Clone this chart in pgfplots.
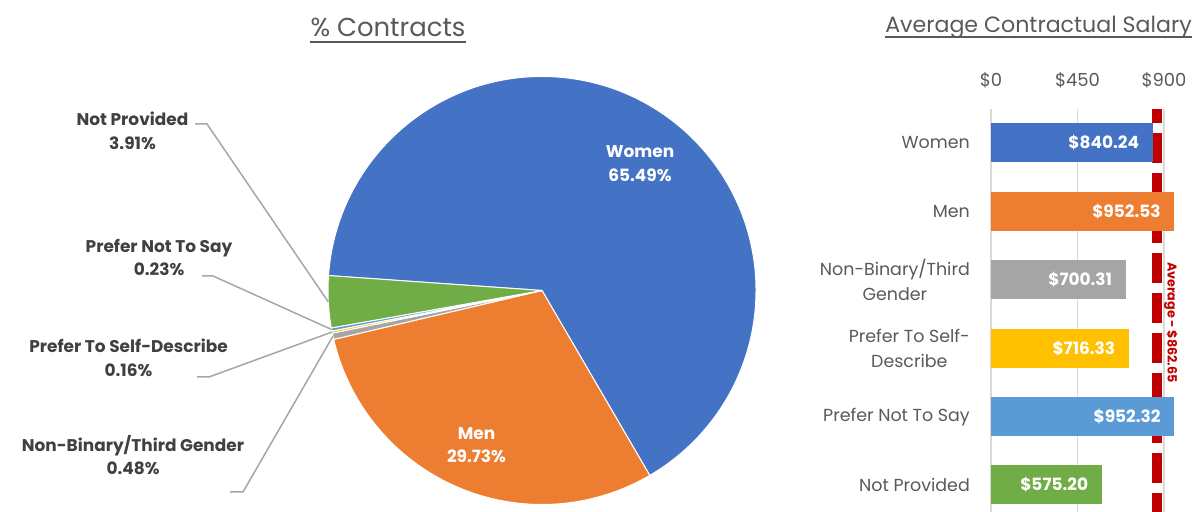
\documentclass[border=0pt]{standalone}
\usepackage{fontspec}
\setmainfont{Poppins}
\usepackage{pgfplots}
\pgfplotsset{compat=1.18}
\definecolor{cW}{HTML}{4472C4}
\definecolor{cM}{HTML}{ED7D31}
\definecolor{cNB}{HTML}{A5A5A5}
\definecolor{cSD}{HTML}{FFC000}
\definecolor{cPN}{HTML}{5B9BD5}
\definecolor{cNP}{HTML}{70AD47}
\definecolor{tgray}{HTML}{595959}
\definecolor{lgray}{HTML}{404040}
\definecolor{leader}{HTML}{A6A6A6}
\definecolor{gridc}{HTML}{D9D9D9}
\definecolor{avgred}{HTML}{C00000}
\newcommand\fs[2]{\fontsize{#1}{#2}\selectfont}
% #1 colour, #2 cumulative start (%), #3 share (%)
\newcommand{\slice}[3]{\fill[#1, draw=white, line width=1bp, line join=round]
  (axis cs:0,0) -- ++({176-3.6*#2}:214bp)
  arc[start angle={176-3.6*#2}, end angle={176-3.6*(#2+#3)}, radius=214bp] -- cycle;}
\pgfplotsset{/pgf/number format/assume math mode=true}
\begin{document}
\begin{tikzpicture}[x=1bp,y=1bp]
\useasboundingbox (0,0) rectangle (1199,512);
% ---- titles
\node[inner sep=0, anchor=base, font=\fs{26}{30}, text=tgray] (t1) at (388,475) {\% Contracts};
\draw[tgray, line width=1.8bp] ([yshift=-5bp]t1.base west) -- ([yshift=-5bp]t1.base east);
\node[inner sep=0, anchor=base, font=\fs{22.2}{26}, text=tgray] (t2) at (1038.5,479) {Average Contractual Salary};
\draw[tgray, line width=1.6bp] ([yshift=-4bp]t2.base west) -- ([yshift=-4bp]t2.base east);
% ---- pie
\begin{axis}[at={(542bp,221.5bp)}, anchor=center, width=428bp, height=428bp, scale only axis,
  xmin=-1, xmax=1, ymin=-1, ymax=1, hide axis, clip=false]
\slice{cW}{0}{65.49}
\slice{cM}{65.49}{29.73}
\slice{cNB}{95.22}{0.48}
\slice{cSD}{95.70}{0.16}
\slice{cPN}{95.86}{0.23}
\slice{cNP}{96.09}{3.91}
\end{axis}
% inner labels
\begin{scope}[every node/.style={inner sep=0, anchor=base, font=\fs{17}{20}\bfseries}]
\node[text=white] at (640,354) {Women};
\node[text=white] at (640,330) {65.49\%};
\node[text=white] at (476.5,72) {Men};
\node[text=white] at (476.5,49) {29.73\%};
\node[text=lgray] at (132.5,386) {Not Provided};
\node[text=lgray] at (132.5,362) {3.91\%};
\node[text=lgray] at (159,259) {Prefer Not To Say};
\node[text=lgray] at (159,236) {0.23\%};
\node[text=lgray] at (128.5,159) {Prefer To Self-Describe};
\node[text=lgray] at (128.5,135) {0.16\%};
\node[text=lgray] at (133,60) {Non-Binary/Third Gender};
\node[text=lgray] at (133,37) {0.48\%};
\end{scope}
% leader lines
\begin{scope}[leader, line width=1.5bp]
\draw (195,388) -- (207,388) -- (328.3,210.1);
\draw (202,236) -- (213,236) -- (331.6,182.5);
\draw (197,135) -- (209,135) -- (332.1,180);
\draw (230,20) -- (243,20) -- (332.9,175.8);
\end{scope}
% ---- bars
\begin{axis}[at={(991bp,403.2bp)}, anchor=north west, width=173bp, height=410.4bp, scale only axis,
  xmin=0, xmax=900, ymin=-0.5, ymax=5.5, y dir=reverse, clip=false,
  axis line style={draw=none}, major tick length=0pt,
  xmajorgrids, grid style={draw=gridc, line width=1.5bp},
  xtick={0,450,900}, xticklabels={\$0,\$450,\$900}, xticklabel pos=top,
  xticklabel style={anchor=base, inner sep=0pt, yshift=21.8bp, font=\fs{18}{22}, text=tgray},
  ytick={0,1,2,3,4,5},
  yticklabels={Women, Men, {Non-Binary/Third\\Gender}, {Prefer To Self-\\Describe}, Prefer Not To Say, Not Provided},
  yticklabel style={anchor=east, inner sep=0pt, xshift=-21bp, align=center, font=\fs{17.5}{25}, text=tgray},
  mybar/.style={xbar, bar width=39bp, bar shift=0pt, draw=none, fill=#1,
    point meta=x, nodes near coords={\$\pgfmathprintnumber[fixed,fixed zerofill,precision=2]{\pgfplotspointmeta}},
    every node near coord/.append style={anchor=east, xshift=-10bp, text=white, font=\fs{17}{20}\bfseries}},
]
\addplot[avgred, line width=10bp, dash pattern=on 30bp off 10bp, dash phase=16bp, forget plot]
  coordinates {(862.65,-0.5) (862.65,6)};
\addplot[mybar=cW] coordinates {(840.24,0)};
\addplot[mybar=cM] coordinates {(952.53,1)};
\addplot[mybar=cNB] coordinates {(700.31,2)};
\addplot[mybar=cSD] coordinates {(716.33,3)};
\addplot[mybar=cPN] coordinates {(952.32,4)};
\addplot[mybar=cNP] coordinates {(575.20,5)};
\node[rotate=-90, text=avgred, font=\fs{12.8}{14}\bfseries, inner sep=0] at (axis cs:936.4,2.624) {Average - \$862.65};
\end{axis}
\end{tikzpicture}
\end{document}
